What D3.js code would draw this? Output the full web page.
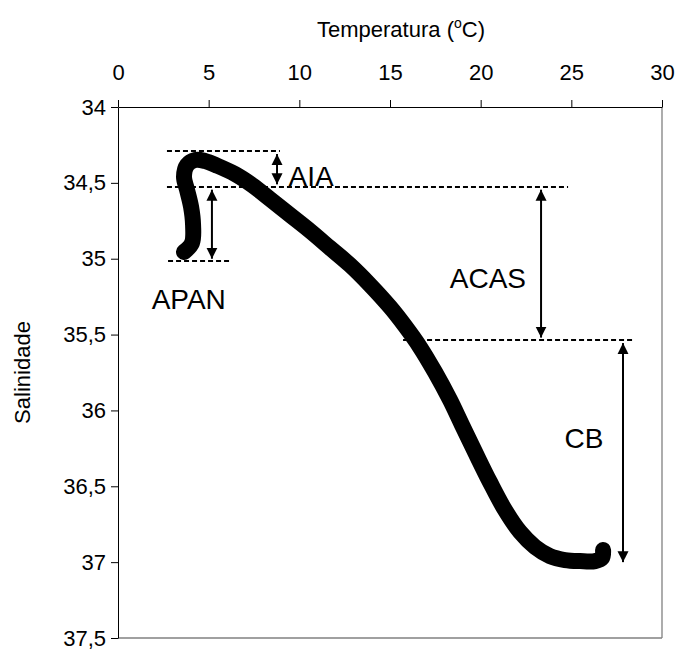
<!DOCTYPE html>
<html>
<head>
<meta charset="utf-8">
<script src="https://cdn.jsdelivr.net/npm/d3@7"></script>
<style>
  body { margin: 0; background: #fff; }
  text { font-family: "Liberation Sans", Arial, sans-serif; fill: #000; }
</style>
</head>
<body>
<div id="chart"></div>
<script>
// T-S curve
const temp = [3.64, 4.08, 4.14, 4.03, 3.81, 3.64, 3.81, 4.25, 4.80, 5.51, 6.45, 7.39, 8.38, 9.49,
  10.59, 11.69, 12.79, 13.90, 15.00, 15.83, 16.65, 17.48, 18.31, 18.97, 19.69, 20.51, 21.34,
  22.17, 23.00, 23.82, 24.65, 25.48, 26.31, 26.69, 26.75]
const sal = [34.956, 34.896, 34.778, 34.659, 34.547, 34.461, 34.382, 34.349, 34.356, 34.389,
  34.442, 34.514, 34.606, 34.712, 34.817, 34.929, 35.041, 35.173, 35.318, 35.444, 35.582,
  35.747, 35.931, 36.096, 36.274, 36.472, 36.656, 36.801, 36.900, 36.960, 36.986, 36.993,
  36.993, 36.973, 36.920]

const xTicks = [0, 5, 10, 15, 20, 25, 30]
const yTicks = [34, 34.5, 35, 35.5, 36, 36.5, 37, 37.5]

// water mass limits (dashed) : salinity, temp from, temp to
const limitS = [34.29, 34.527, 35.015, 35.536]
const limitT0 = [2.7, 2.7, 2.76, 15.72]
const limitT1 = [8.93, 24.82, 6.18, 28.46]

// arrows : temp, salinity from, salinity to
const arrowT = [8.77, 5.18, 23.33, 27.85]
const arrowS0 = [34.31, 34.545, 34.545, 35.556]
const arrowS1 = [34.51, 35.0, 35.52, 37.0]

const labels = ['AIA', 'APAN', 'ACAS', 'CB']
const labelT = [9.4, 3.9, 20.4, 25.7]
const labelS = [34.52, 35.33, 35.19, 36.25]
const labelAnchor = ['start', 'middle', 'middle', 'middle']

const W = 681, H = 653
const mLeft = 118, mRight = 662, mTop = 107, mBottom = 638

const svg = d3.select('#chart').append('svg')
    .attr('width', W)
    .attr('height', H)

const x = d3.scaleLinear().domain([0, 30]).range([mLeft, mRight])
const y = d3.scaleLinear().domain([34, 37.5]).range([mTop, mBottom])

// frame
svg.append('line').attr('x1', mRight).attr('x2', mRight).attr('y1', mTop).attr('y2', mBottom)
    .attr('stroke', '#808080').attr('stroke-width', 1.3)
svg.append('line').attr('x1', mLeft).attr('x2', mRight).attr('y1', mBottom).attr('y2', mBottom)
    .attr('stroke', '#808080').attr('stroke-width', 1.3)

const xAxis = d3.axisTop(x).tickValues(xTicks).tickSizeOuter(0).tickSizeInner(7).tickPadding(20)
const gx = svg.append('g')
    .attr('transform', `translate(0,${mTop})`)
    .call(xAxis)
gx.selectAll('text').style('font-size', '22px').attr('font-family', 'Liberation Sans, Arial')
gx.selectAll('path, line').attr('stroke', '#000')

const yAxis = d3.axisLeft(y).tickValues(yTicks).tickSizeOuter(0).tickSizeInner(7).tickPadding(5)
    .tickFormat(d => String(d).replace('.', ','))
const gy = svg.append('g')
    .attr('transform', `translate(${mLeft},0)`)
    .call(yAxis)
gy.selectAll('text').style('font-size', '22px').attr('font-family', 'Liberation Sans, Arial')
gy.selectAll('path, line').attr('stroke', '#000')

// titles
const tt = svg.append('text')
    .attr('x', 401)
    .attr('y', 37)
    .attr('text-anchor', 'middle')
    .style('font-size', '22px')
tt.append('tspan').text('Temperatura (')
tt.append('tspan').text('o').attr('dy', -9).style('font-size', '14px')
tt.append('tspan').text('C)').attr('dy', 9)

svg.append('text')
    .attr('transform', `translate(30,${(mTop + mBottom) / 2}) rotate(-90)`)
    .attr('text-anchor', 'middle')
    .style('font-size', '22px')
    .text('Salinidade')

// curve
const pts = temp.map((t, i) => [t, sal[i]])
const line = d3.line()
    .x(d => x(d[0]))
    .y(d => y(d[1]))
    .curve(d3.curveCatmullRom.alpha(0.5))

svg.append('path')
    .datum(pts)
    .attr('d', line)
    .attr('fill', 'none')
    .attr('stroke', '#000')
    .attr('stroke-width', 16)
    .attr('stroke-linecap', 'round')
    .attr('stroke-linejoin', 'round')

// dashed limits
svg.selectAll('.limit')
    .data(limitS)
    .enter()
    .append('line')
    .attr('class', 'limit')
    .attr('x1', (d, i) => x(limitT0[i]))
    .attr('x2', (d, i) => x(limitT1[i]))
    .attr('y1', d => y(d))
    .attr('y2', d => y(d))
    .attr('stroke', '#000')
    .attr('stroke-width', 2)
    .attr('stroke-dasharray', '5,3')

// arrow heads
const defs = svg.append('defs')
defs.append('marker')
    .attr('id', 'head')
    .attr('viewBox', '0 0 10 10')
    .attr('refX', 10)
    .attr('refY', 5)
    .attr('markerUnits', 'userSpaceOnUse')
    .attr('markerWidth', 11)
    .attr('markerHeight', 12)
    .attr('orient', 'auto-start-reverse')
    .append('path')
    .attr('d', 'M0,0 L10,5 L0,10 Z')
    .attr('fill', '#000')

svg.selectAll('.arrow')
    .data(arrowT)
    .enter()
    .append('line')
    .attr('class', 'arrow')
    .attr('x1', d => x(d))
    .attr('x2', d => x(d))
    .attr('y1', (d, i) => y(arrowS0[i]))
    .attr('y2', (d, i) => y(arrowS1[i]))
    .attr('stroke', '#000')
    .attr('stroke-width', 2)
    .attr('marker-start', 'url(#head)')
    .attr('marker-end', 'url(#head)')

svg.selectAll('.lbl')
    .data(labels)
    .enter()
    .append('text')
    .attr('class', 'lbl')
    .attr('x', (d, i) => x(labelT[i]))
    .attr('y', (d, i) => y(labelS[i]))
    .attr('text-anchor', (d, i) => labelAnchor[i])
    .style('font-size', '28px')
    .text(d => d)
</script>
</body>
</html>
